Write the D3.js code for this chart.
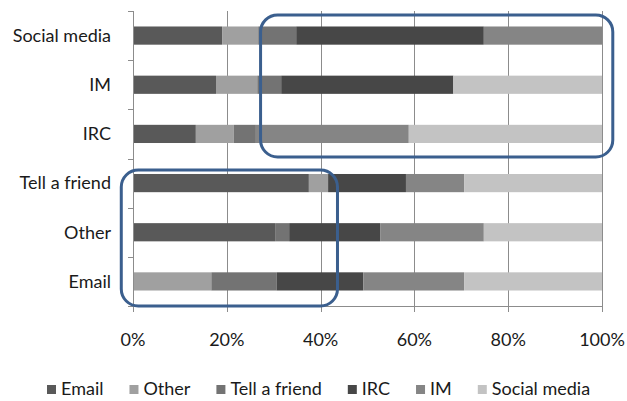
<!DOCTYPE html>
<html>
<head>
<meta charset="utf-8">
<script src="https://cdn.jsdelivr.net/npm/d3@7"></script>
<style>
  body { margin: 0; background: #fff; }
  text { font-family: Lato, "Open Sans", sans-serif; fill: #1a1a1a; }
</style>
</head>
<body>
<div id="chart"></div>
<script>
// kategorie (od góry) i serie
var categories = ["Social media", "IM", "IRC", "Tell a friend", "Other", "Email"];
var seriesNames = ["Email", "Other", "Tell a friend", "IRC", "IM", "Social media"];

// udziały procentowe, kolejność jak w categories
var emailVals  = [19.0, 17.7, 13.4, 37.5, 30.3,  0.0];
var otherVals  = [ 7.7,  8.8,  8.1,  4.1,  0.0, 16.7];
var tellVals   = [ 8.1,  5.1,  4.7,  0.0,  3.0, 13.9];
var ircVals    = [40.0, 36.7,  0.0, 16.6, 19.4, 18.5];
var imVals     = [25.2,  0.0, 32.6, 12.4, 22.1, 21.5];
var socialVals = [ 0.0, 31.7, 41.2, 29.4, 25.2, 29.4];

var tickValues = [0, 0.2, 0.4, 0.6, 0.8, 1];

var colors = ["#595959", "#a0a0a0", "#737373", "#474747", "#858585", "#c3c3c3"];

var W = 627, H = 401;
var margin = {top: 11, right: 25, bottom: 95, left: 133};
var width = W - margin.left - margin.right,
    height = H - margin.top - margin.bottom;

var svg = d3.select("#chart").append("svg")
    .attr("width", W).attr("height", H);
var g = svg.append("g")
    .attr("transform", "translate(" + margin.left + "," + margin.top + ")");

// tabela dla d3.stack
var allVals = [emailVals, otherVals, tellVals, ircVals, imVals, socialVals];
var table = categories.map(function(c, i) {
  var row = {cat: c}, sum = 0;
  seriesNames.forEach(function(s, j) { sum += allVals[j][i]; });
  seriesNames.forEach(function(s, j) { row[s] = allVals[j][i] / sum; });
  return row;
});

var x = d3.scaleLinear().domain([0, 1]).range([0, width]);
var y = d3.scaleBand().domain(categories).range([0, height])
    .paddingInner(0.63).paddingOuter(0.315);

// siatka pionowa
g.append("g").selectAll("line").data(tickValues).enter().append("line")
  .attr("x1", function(d) { return Math.round(x(d)) + 0.5; })
  .attr("x2", function(d) { return Math.round(x(d)) + 0.5; })
  .attr("y1", 0).attr("y2", height)
  .attr("stroke", "#8c8c8c").attr("stroke-width", 1);

// słupki
var stacked = d3.stack().keys(seriesNames)(table);
g.append("g").selectAll("g").data(stacked).enter().append("g")
    .attr("fill", function(d, i) { return colors[i]; })
  .selectAll("rect").data(function(d) { return d; }).enter().append("rect")
    .attr("x", function(d) { return x(d[0]); })
    .attr("width", function(d) { return x(d[1]) - x(d[0]); })
    .attr("y", function(d) { return y(d.data.cat); })
    .attr("height", y.bandwidth());

// oś Y
var step = y.step();
var yAxis = g.append("g");
yAxis.append("line")
  .attr("x1", 0.5).attr("x2", 0.5).attr("y1", 0).attr("y2", height)
  .attr("stroke", "#8c8c8c");
yAxis.selectAll("line.tk").data(d3.range(categories.length + 1)).enter().append("line")
  .attr("class", "tk")
  .attr("x1", -5).attr("x2", 0.5)
  .attr("y1", function(i) { return Math.round(i * step) + 0.5; })
  .attr("y2", function(i) { return Math.round(i * step) + 0.5; })
  .attr("stroke", "#8c8c8c");
yAxis.selectAll("text").data(categories).enter().append("text")
  .attr("x", -22)
  .attr("y", function(d) { return y(d) + y.bandwidth() / 2; })
  .attr("dy", "0.35em")
  .attr("text-anchor", "end")
  .style("font-size", "18px")
  .text(function(d) { return d; });

// oś X
var xAxis = g.append("g").attr("transform", "translate(0," + height + ")");
xAxis.append("line").attr("x1", 0).attr("x2", width)
  .attr("y1", 0.5).attr("y2", 0.5).attr("stroke", "#8c8c8c");
xAxis.selectAll("line.tk").data(tickValues).enter().append("line")
  .attr("class", "tk")
  .attr("x1", function(d) { return Math.round(x(d)) + 0.5; })
  .attr("x2", function(d) { return Math.round(x(d)) + 0.5; })
  .attr("y1", 0).attr("y2", 6).attr("stroke", "#8c8c8c");
xAxis.selectAll("text").data(tickValues).enter().append("text")
  .attr("x", function(d) { return x(d); })
  .attr("y", 40)
  .attr("text-anchor", "middle")
  .style("font-size", "18px")
  .text(d3.format(".0%"));

// ramki z zaokrąglonymi rogami (adnotacje), pionowo w jednostkach kroku pasma
var boxes = [
  {x0: 0.272, x1: 1.023, top: 0.08, bottom: 2.97},
  {x0: -0.025, x1: 0.436, top: 3.234, bottom: 6.0}
];
g.append("g").selectAll("rect").data(boxes).enter().append("rect")
  .attr("x", function(d) { return x(d.x0); })
  .attr("width", function(d) { return x(d.x1) - x(d.x0); })
  .attr("y", function(d) { return d.top * step; })
  .attr("height", function(d) { return (d.bottom - d.top) * step; })
  .attr("rx", 17).attr("ry", 17)
  .attr("fill", "none").attr("stroke", "#3b5f8e").attr("stroke-width", 3);

// legenda
var legend = svg.append("g").attr("transform", "translate(0," + 389 + ")");
var lx = 47;
seriesNames.forEach(function(s, i) {
  var it = legend.append("g").attr("transform", "translate(" + lx + ",0)");
  it.append("rect").attr("x", 0).attr("y", -4).attr("width", 9).attr("height", 9)
    .attr("fill", colors[i]);
  var t = it.append("text").attr("x", 14).attr("dy", "0.35em")
    .style("font-size", "18px").text(s);
  lx += 14 + t.node().getComputedTextLength() + 26;
});
</script>
</body>
</html>
